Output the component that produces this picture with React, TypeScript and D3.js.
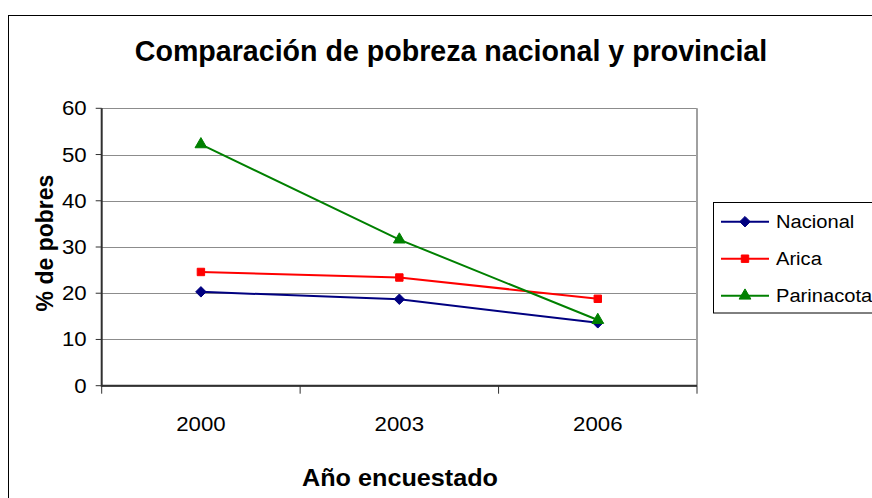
import * as d3 from 'd3';
import React from 'react';

const WIDTH = 872;
const HEIGHT = 498;

const years = ['2000', '2003', '2006'];
const nacional = [20.3, 18.7, 13.6];
const arica = [24.6, 23.4, 18.8];
const parinacota = [52.2, 31.6, 14.2];
const yTicks = [0, 10, 20, 30, 40, 50, 60];

const series = [
  { name: 'Nacional', values: nacional, color: '#000080', symbol: d3.symbolDiamond2, size: 70 },
  { name: 'Arica', values: arica, color: '#ff0000', symbol: d3.symbolSquare, size: 55 },
  { name: 'Parinacota', values: parinacota, color: '#008000', symbol: d3.symbolTriangle, size: 60 },
];

const PLOT = { left: 101.7, top: 108.3, right: 697, bottom: 385.7 };
const FONT = '"Liberation Sans", Arial, sans-serif';
const STRETCH = 1.06; // the tick and legend labels are a bit wider than plain Arial

export default function App() {
  const xScale = d3.scaleBand().domain(years).range([PLOT.left, PLOT.right]);
  const yScale = d3.scaleLinear().domain([0, 60]).range([PLOT.bottom, PLOT.top]);

  const line = d3
    .line<number>()
    .x((_, i) => (xScale(years[i]) ?? 0) + xScale.bandwidth() / 2)
    .y(d => yScale(d));

  const xBounds = [...years.map(y => xScale(y) ?? 0), PLOT.right];

  return (
    <svg
      width={WIDTH}
      height={HEIGHT}
      style={{ position: 'absolute', left: 0, top: 0, background: '#fff' }}
      fontFamily={FONT}
    >
      <rect x={8.5} y={15.5} width={WIDTH + 20} height={HEIGHT + 20} fill="#fff" stroke="#000" />

      <text x={451} y={61} textAnchor="middle" fontSize={28.6} fontWeight="bold">
        Comparación de pobreza nacional y provincial
      </text>

      {/* gridlines */}
      {yTicks.map(t => (
        <line
          key={t}
          x1={PLOT.left}
          x2={PLOT.right}
          y1={Math.round(yScale(t)) + 0.5}
          y2={Math.round(yScale(t)) + 0.5}
          stroke="#8c8c8c"
        />
      ))}
      <line x1={PLOT.right} x2={PLOT.right} y1={PLOT.top} y2={PLOT.bottom} stroke="#a0a0a0" strokeWidth={2} />

      {/* axes */}
      <line x1={PLOT.left} x2={PLOT.left} y1={PLOT.top} y2={PLOT.bottom + 1} stroke="#303030" strokeWidth={2} />
      <line x1={PLOT.left} x2={PLOT.right} y1={PLOT.bottom} y2={PLOT.bottom} stroke="#303030" strokeWidth={2} />
      {yTicks.map(t => (
        <g key={t}>
          <line x1={PLOT.left - 6} x2={PLOT.left} y1={yScale(t)} y2={yScale(t)} stroke="#303030" />
          <text
            transform={`translate(${PLOT.left - 15},${yScale(t) + 7}) scale(${STRETCH},1)`}
            textAnchor="end"
            fontSize={21}
          >
            {t}
          </text>
        </g>
      ))}
      {xBounds.map((x, i) => (
        <line key={i} x1={x} x2={x} y1={PLOT.bottom} y2={PLOT.bottom + 8} stroke="#303030" />
      ))}
      {years.map(y => (
        <text
          key={y}
          transform={`translate(${(xScale(y) ?? 0) + xScale.bandwidth() / 2},${431}) scale(${STRETCH},1)`}
          textAnchor="middle"
          fontSize={21}
        >
          {y}
        </text>
      ))}

      <text
        transform={`translate(53,243) rotate(-90)`}
        textAnchor="middle"
        fontSize={23}
        fontWeight="bold"
      >
        % de pobres
      </text>
      <text
        transform={`translate(400,486) scale(1.05,1)`}
        textAnchor="middle"
        fontSize={24}
        fontWeight="bold"
      >
        Año encuestado
      </text>

      {/* series */}
      {series.map(s => (
        <g key={s.name}>
          <path d={line(s.values) ?? ''} fill="none" stroke={s.color} strokeWidth={2} />
          {s.values.map((v, i) => (
            <path
              key={i}
              d={d3.symbol(s.symbol, s.size)() ?? ''}
              transform={`translate(${(xScale(years[i]) ?? 0) + xScale.bandwidth() / 2},${yScale(v)})`}
              fill={s.color}
              stroke={s.color}
            />
          ))}
        </g>
      ))}

      {/* legend */}
      <rect x={713.5} y={202.5} width={200} height={110.5} fill="#fff" stroke="#000" />
      {series.map((s, i) => {
        const y = 221.7 + i * 37;
        return (
          <g key={s.name}>
            <line x1={721} x2={769} y1={y} y2={y} stroke={s.color} strokeWidth={2} />
            <path
              d={d3.symbol(s.symbol, s.size)() ?? ''}
              transform={`translate(745,${y})`}
              fill={s.color}
              stroke={s.color}
            />
            <text transform={`translate(776,${y + 6.5}) scale(${STRETCH},1)`} fontSize={19}>
              {s.name}
            </text>
          </g>
        );
      })}
    </svg>
  );
}
